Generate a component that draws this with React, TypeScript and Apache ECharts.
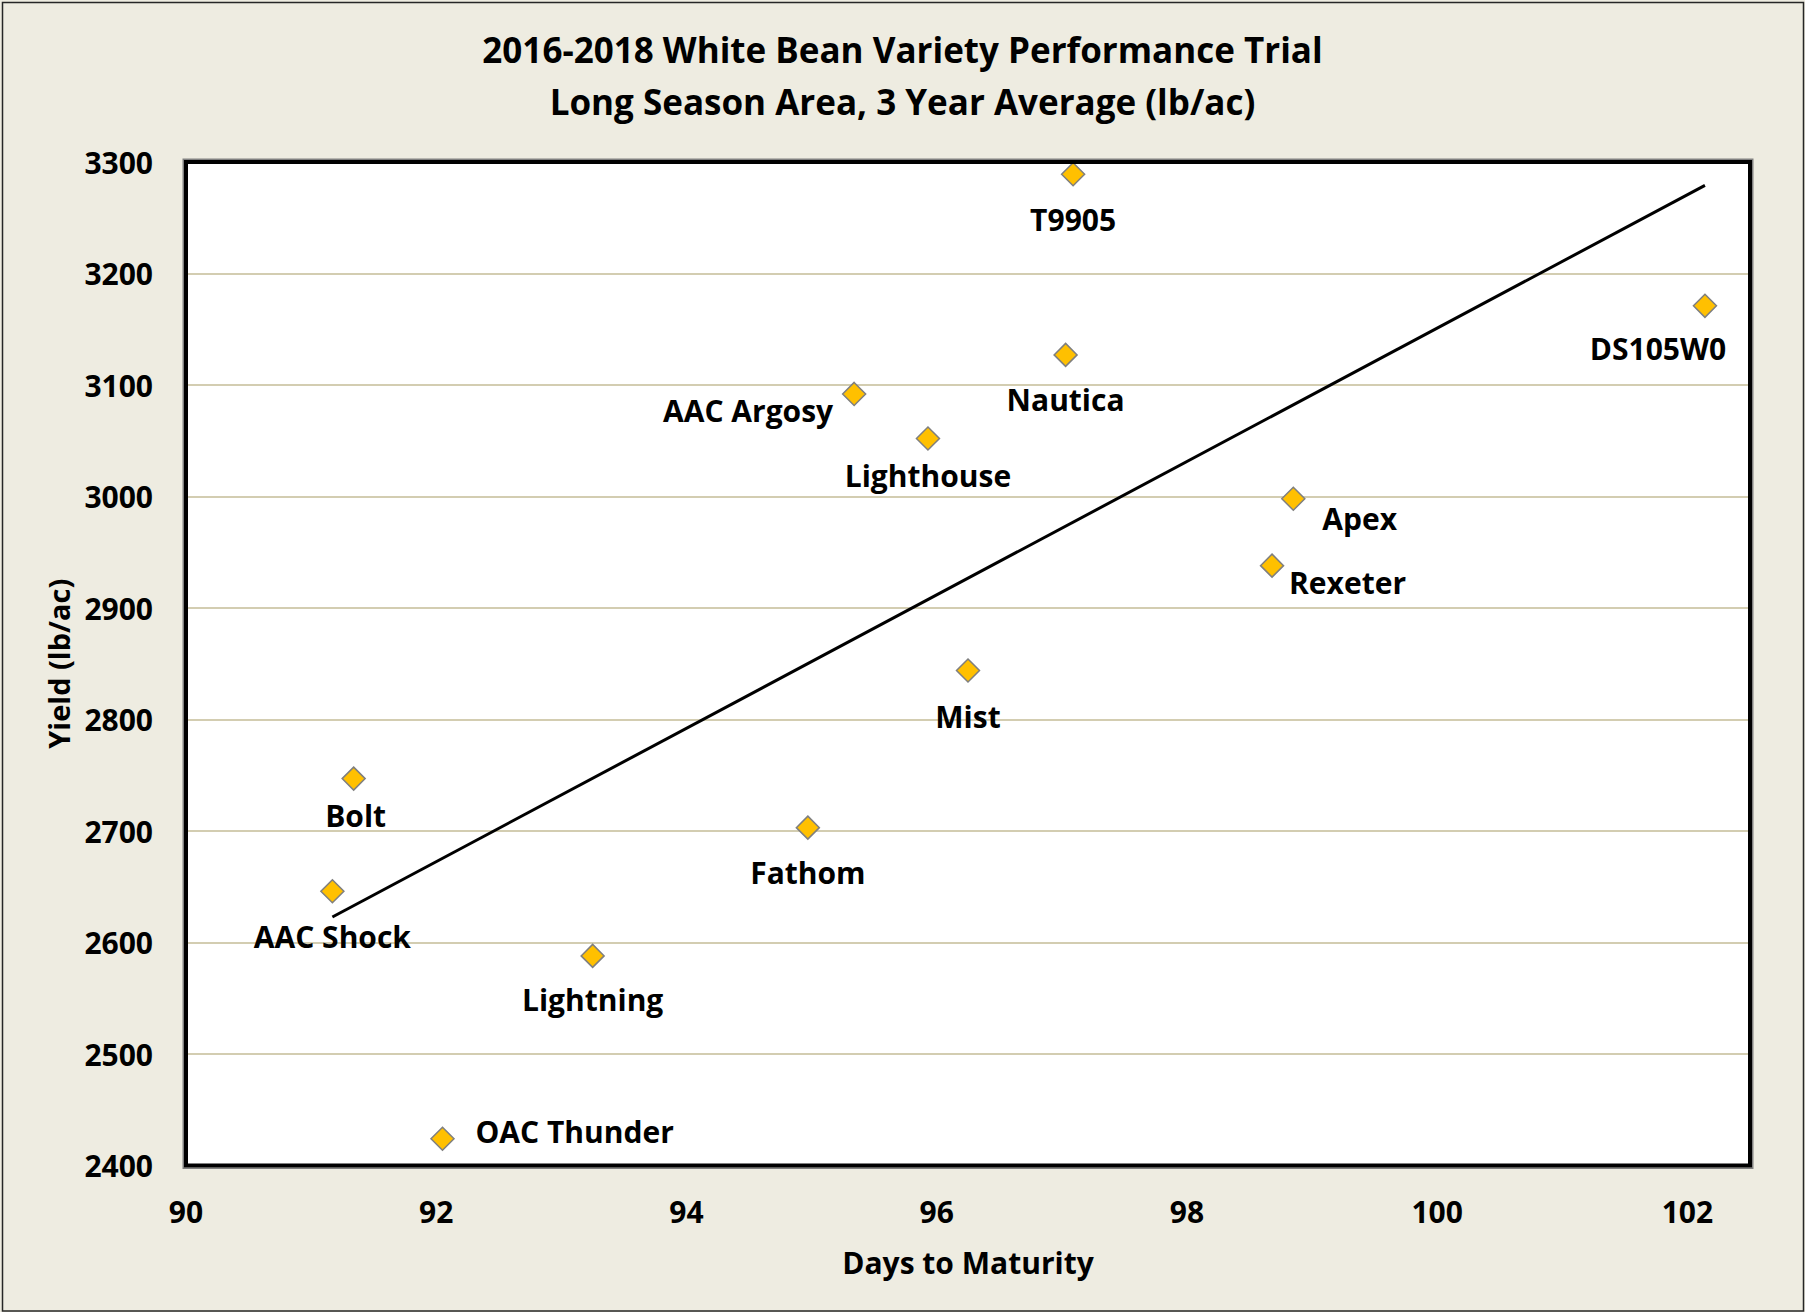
import React, { useEffect, useRef } from "react";
import * as echarts from "echarts";

// ---- Data ----
const varieties = [
  "T9905",
  "DS105W0",
  "Nautica",
  "AAC Argosy",
  "Lighthouse",
  "Apex",
  "Rexeter",
  "Mist",
  "Bolt",
  "Fathom",
  "AAC Shock",
  "Lightning",
  "OAC Thunder",
];
const daysToMaturity = [97.09, 102.14, 97.03, 95.34, 95.93, 98.85, 98.68, 96.25, 91.34, 94.97, 91.17, 93.25, 92.05];
const yieldLbAc = [3289, 3171, 3127, 3092, 3052, 2998, 2938, 2844, 2747, 2703, 2646, 2588, 2424];
const xTickLabels = [90, 92, 94, 96, 98, 100, 102];
const yTickLabels = [2400, 2500, 2600, 2700, 2800, 2900, 3000, 3100, 3200, 3300];

const titleLines = [
  "2016-2018 White Bean Variety Performance Trial",
  "Long Season Area, 3 Year Average (lb/ac)",
];
const xAxisTitle = "Days to Maturity";
const yAxisTitle = "Yield (lb/ac)";

// ---- Label placement (style only) ----
const labelPlacement: Record<string, { align: string; offset: [number, number] }> = {
  T9905: { align: "center", offset: [0, 45] },
  DS105W0: { align: "center", offset: [-47, 43] },
  Nautica: { align: "center", offset: [0, 45] },
  "AAC Argosy": { align: "right", offset: [-21, 17] },
  Lighthouse: { align: "center", offset: [0, 37] },
  Apex: { align: "left", offset: [29, 20] },
  Rexeter: { align: "left", offset: [17, 17] },
  Mist: { align: "center", offset: [0, 46] },
  Bolt: { align: "center", offset: [2, 37] },
  Fathom: { align: "center", offset: [0, 45] },
  "AAC Shock": { align: "center", offset: [0, 45] },
  Lightning: { align: "center", offset: [0, 44] },
  "OAC Thunder": { align: "left", offset: [33, -7] },
};

// Linear trendline (least squares), as in the original chart
function linearTrend(xs: number[], ys: number[]) {
  const n = xs.length;
  const mx = xs.reduce((a, b) => a + b, 0) / n;
  const my = ys.reduce((a, b) => a + b, 0) / n;
  let sxy = 0;
  let sxx = 0;
  for (let i = 0; i < n; i++) {
    sxy += (xs[i] - mx) * (ys[i] - my);
    sxx += (xs[i] - mx) * (xs[i] - mx);
  }
  const slope = sxy / sxx;
  const intercept = my - slope * mx;
  const x0 = Math.min(...xs);
  const x1 = Math.max(...xs);
  return [
    [x0, intercept + slope * x0],
    [x1, intercept + slope * x1],
  ];
}

const FONT = '"Open Sans", "Noto Sans", sans-serif';
const W = 1805;
const H = 1312;
const G = { left: 186, top: 162, right: 1750, bottom: 1165.5 };

export default function App() {
  const ref = useRef<HTMLDivElement>(null);

  useEffect(() => {
    if (!ref.current) return;
    const chart = echarts.init(ref.current, undefined, { renderer: "svg" });

    const scatterData = varieties.map((name, i) => {
      const p = labelPlacement[name];
      return {
        name,
        value: [daysToMaturity[i], yieldLbAc[i]],
        label: {
          show: true,
          position: "inside",
          align: p.align,
          verticalAlign: "middle",
          offset: p.offset,
          formatter: name,
          color: "#000000",
          textBorderWidth: 0,
          opacity: 1,
        },
      };
    });

    const gw = G.right - G.left;
    const gh = G.bottom - G.top;

    chart.setOption({
      animation: false,
      backgroundColor: "#EEECE1",
      textStyle: { fontFamily: FONT },
      title: {
        text: titleLines.join("\n"),
        left: "center",
        top: 18,
        textStyle: {
          fontFamily: FONT,
          fontWeight: "bold",
          fontSize: 35,
          lineHeight: 52,
          color: "#000",
        },
      },
      grid: {
        left: G.left,
        top: G.top,
        width: gw,
        height: gh,
        show: true,
        backgroundColor: "#FFFFFF",
        borderWidth: 0,
        containLabel: false,
      },
      xAxis: {
        type: "value",
        min: 90,
        max: 102.5,
        interval: 2,
        axisLine: { show: false },
        axisTick: { show: false },
        splitLine: { show: false },
        axisLabel: {
          margin: 31,
          fontSize: 30,
          fontWeight: "bold",
          fontFamily: FONT,
          color: "#000",
          showMaxLabel: true,
          formatter: (v: number) => (xTickLabels.includes(v) ? String(v) : ""),
        },
      },
      yAxis: {
        type: "value",
        min: 2400,
        max: 3300,
        interval: 100,
        axisLine: { show: false },
        axisTick: { show: false },
        splitLine: { show: true, lineStyle: { color: "#C4BD97", width: 1.5 } },
        axisLabel: {
          margin: 33,
          fontSize: 30,
          fontWeight: "bold",
          fontFamily: FONT,
          color: "#000",
          formatter: (v: number) => (yTickLabels.includes(v) ? String(v) : ""),
        },
      },
      series: [
        {
          type: "line",
          data: linearTrend(daysToMaturity, yieldLbAc),
          symbol: "none",
          silent: true,
          z: 2,
          lineStyle: { color: "#000000", width: 3, opacity: 1 },
        },
        {
          type: "scatter",
          data: scatterData,
          symbol: "diamond",
          symbolSize: 23,
          z: 3,
          itemStyle: { color: "#FFC000", borderColor: "#7F7F7F", borderWidth: 1.5, opacity: 1 },
          label: {
            color: "#000000",
            fontSize: 30,
            fontWeight: "bold",
            fontFamily: FONT,
            textBorderWidth: 0,
          },
          emphasis: { disabled: true },
        },
      ],
      graphic: [
        {
          type: "rect",
          z: 100,
          silent: true,
          shape: { x: G.left - 2.75, y: G.top - 2.75, width: gw + 5.5, height: gh + 5.5 },
          style: { fill: "none", stroke: "#808080", lineWidth: 1.5 },
        },
        {
          type: "rect",
          z: 101,
          silent: true,
          shape: { x: G.left, y: G.top, width: gw, height: gh },
          style: { fill: "none", stroke: "#000000", lineWidth: 4 },
        },
        {
          type: "rect",
          z: 101,
          silent: true,
          shape: { x: 2.5, y: 2.5, width: 1801, height: 1308.5 },
          style: { fill: "none", stroke: "#262626", lineWidth: 1.5 },
        },
        {
          type: "text",
          z: 101,
          x: 58.5,
          y: (G.top + G.bottom) / 2,
          rotation: Math.PI / 2,
          style: {
            text: yAxisTitle,
            fontFamily: FONT,
            fontWeight: "bold",
            fontSize: 29,
            fill: "#000",
            align: "center",
            verticalAlign: "middle",
          },
        },
        {
          type: "text",
          z: 101,
          x: (G.left + G.right) / 2,
          y: 1262,
          style: {
            text: xAxisTitle,
            fontFamily: FONT,
            fontWeight: "bold",
            fontSize: 30,
            fill: "#000",
            align: "center",
            verticalAlign: "middle",
          },
        },
      ],
    });

    return () => chart.dispose();
  }, []);

  return (
    <div
      ref={ref}
      style={{ position: "absolute", left: 0, top: 0, width: W, height: H }}
    />
  );
}
